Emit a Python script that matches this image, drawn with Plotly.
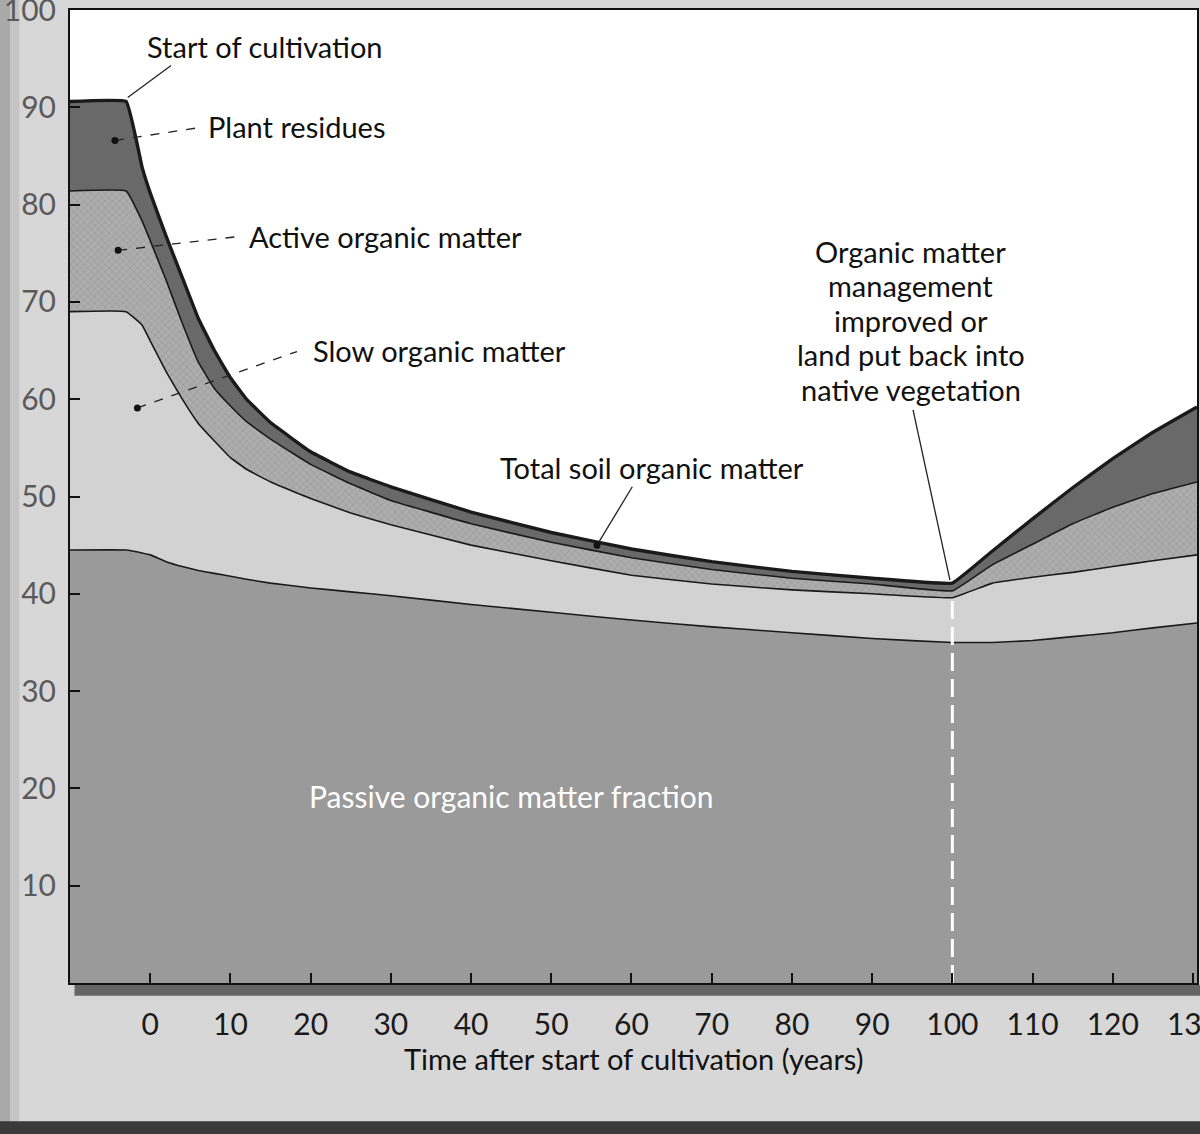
import plotly.graph_objects as go

# years after start of cultivation (cultivation starts a little before 0 on this drawing)
years = [-10, -3, -1, 0, 2, 4, 6, 8, 10, 12, 15, 20, 25, 30, 40, 50, 60, 70, 80, 90,
         100, 105, 110, 115, 120, 125, 130.5]

# upper edge of each fraction, % of the original level (stacked from the bottom)
passive_top = [44.5, 44.5, 44.2, 44.0, 43.3, 42.8, 42.4, 42.1, 41.8, 41.5, 41.1, 40.6, 40.2, 39.8,
               38.9, 38.1, 37.3, 36.6, 36.0, 35.4, 35.0, 35.0, 35.2, 35.6, 36.0, 36.5, 37.0]
slow_top = [69.0, 69.0, 67.6, 66.0, 62.8, 60.0, 57.5, 55.7, 54.0, 52.8, 51.5, 49.8, 48.3, 47.1,
            45.0, 43.4, 41.9, 41.0, 40.4, 40.0, 39.6, 41.1, 41.7, 42.2, 42.8, 43.4, 44.0]
active_top = [81.4, 81.4, 78.3, 76.3, 72.2, 67.8, 63.8, 61.1, 59.3, 57.7, 55.9, 53.3, 51.3, 49.6,
              47.2, 45.3, 43.7, 42.5, 41.6, 41.0, 40.3, 43.0, 45.1, 47.2, 48.9, 50.3, 51.5]
total = [90.6, 90.6, 83.8, 81.2, 76.7, 72.5, 68.3, 65.0, 62.2, 60.0, 57.6, 54.6, 52.5, 51.0,
         48.4, 46.3, 44.6, 43.3, 42.3, 41.6, 41.1, 44.4, 47.7, 50.9, 53.9, 56.6, 59.2]

event_year = 100  # management improved / land returned to native vegetation

x_ticks = list(range(0, 131, 10))
y_ticks = list(range(10, 101, 10))

FONT = "Lato"

fig = go.Figure()

# stacked layers, bottom to top
layers = [
    (passive_top, "#9a9a9a", 1.6, None),
    (slow_top, "#d2d2d2", 1.6, None),
    (active_top, "#a8a8a8", 1.6, dict(shape="x", size=5, solidity=0.25, fgcolor="#878787", bgcolor="#adadad")),
    (total, "#696969", 3.4, None),
]
for i, (vals, col, lw, patt) in enumerate(layers):
    fig.add_trace(go.Scatter(
        x=years, y=vals, mode="lines",
        line=dict(color="#1a1a1a", width=lw, shape="spline", smoothing=0.25),
        fill="tozeroy" if i == 0 else "tonexty",
        fillcolor=col,
        fillpattern=patt,
        hoverinfo="skip", showlegend=False,
    ))

# white dashed marker at the change of management
fig.add_trace(go.Scatter(
    x=[event_year, event_year], y=[0, total[years.index(event_year)] - 1.5],
    mode="lines", line=dict(color="white", width=3, dash="18px,8px"),
    hoverinfo="skip", showlegend=False,
))

anns = []
shapes = []


def label(text, x, y, anchor="left", color="#111", size=29):
    anns.append(dict(x=x, y=y, text=text, showarrow=False, xanchor=anchor, yanchor="middle",
                     font=dict(family=FONT, size=size, color=color)))


def leader(x0, y0, x1, y1, dash="solid", dot=True):
    shapes.append(dict(type="line", x0=x0, y0=y0, x1=x1, y1=y1, xref="x", yref="y",
                       line=dict(color="#222", width=1.3, dash=dash)))
    if dot:
        shapes.append(dict(type="circle", xref="x", yref="y", xsizemode="pixel", ysizemode="pixel",
                           xanchor=x0, yanchor=y0, x0=-3.5, x1=3.5, y0=-3.5, y1=3.5,
                           fillcolor="#111", line=dict(width=0)))


label("Start of cultivation", 14.3, 96.3, anchor="center")
leader(-2.8, 91.0, 2.6, 94.3, dot=False)

label("Plant residues", 6.9, 88.0)
leader(-4.4, 86.6, 6.0, 87.9, dash="dash")

label("Active organic matter", 12.1, 76.7)
leader(-4.0, 75.3, 10.8, 76.7, dash="dash")

label("Slow organic matter", 20.0, 65.0)
leader(-1.6, 59.1, 18.3, 64.9, dash="dash")

label("Total soil organic matter", 62.6, 53.0, anchor="center")
leader(55.7, 45.0, 60.1, 51.0)

mgmt = ["Organic matter", "management", "improved or", "land put back into", "native vegetation"]
for k, line in enumerate(mgmt):
    label(line, 94.8, 75.2 - k * 3.55, anchor="center")
leader(95.1, 58.9, 99.7, 41.4, dot=False)

label("Passive organic matter fraction", 45.0, 19.2, anchor="center", color="white", size=30)

# axis title
anns.append(dict(x=0.5, y=0, xref="paper", yref="paper", yshift=-75, showarrow=False,
                 text="Time after start of cultivation (years)", xanchor="center", yanchor="middle",
                 font=dict(family=FONT, size=29, color="#111")))

# scanned page look: darker left edge, shadow under the plot, dark bottom strip
shapes += [
    dict(type="rect", xref="paper", yref="paper", x0=-0.0622, x1=-0.053, y0=-0.16, y1=1.02,
         fillcolor="#a9a9a9", line=dict(width=0), layer="below"),
    dict(type="rect", xref="paper", yref="paper", x0=-0.053, x1=-0.045, y0=-0.16, y1=1.02,
         fillcolor="#c4c4c4", line=dict(width=0), layer="below"),
    dict(type="rect", xref="paper", yref="paper", x0=0.004, x1=1.01, y0=-0.013, y1=-0.002,
         fillcolor="#666666", line=dict(width=0), layer="below"),
    dict(type="rect", xref="paper", yref="paper", x0=-0.07, x1=1.01, y0=-0.1565, y1=-0.142,
         fillcolor="#3a3a3a", line=dict(width=0), layer="below"),
]

fig.update_layout(
    width=1200, height=1134,
    margin=dict(l=70, r=3, t=10, b=151),
    paper_bgcolor="#d7d7d7", plot_bgcolor="white",
    annotations=anns, shapes=shapes,
    showlegend=False,
    font=dict(family=FONT),
)
fig.update_xaxes(
    range=[-10, 130.5], tickvals=x_ticks, ticks="inside", ticklen=10, tickwidth=1.5,
    tickcolor="#111", showgrid=False, zeroline=False, showline=True, linecolor="#111",
    linewidth=2, mirror=True, ticklabelstandoff=14, ticklabeloverflow="allow",
    tickfont=dict(family=FONT, size=30, color="#1a1a1a"), automargin=False,
)
fig.update_yaxes(
    range=[0, 100], tickvals=y_ticks, ticks="inside", ticklen=10, tickwidth=1.5,
    tickcolor="#111", showgrid=False, zeroline=False, showline=True, linecolor="#111",
    linewidth=2, mirror=True, ticklabelstandoff=6, ticklabeloverflow="allow",
    tickfont=dict(family=FONT, size=30, color="#5a5a5a"), automargin=False,
)

fig.write_html("out.html", config={"displayModeBar": False},
               post_script="document.body.style.margin='0px';")
